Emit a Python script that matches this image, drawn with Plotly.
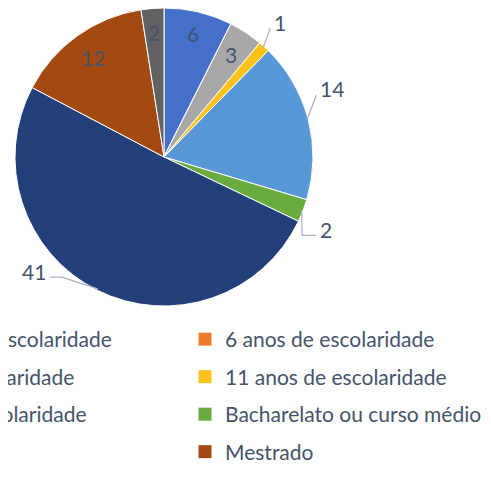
import math
import plotly.graph_objects as go

# ---- data ----
labels = ["Até 4 anos de escolaridade", "6 anos de escolaridade", "9 anos de escolaridade",
          "11 anos de escolaridade", "12 anos de escolaridade", "Bacharelato ou curso médio",
          "Licenciatura", "Mestrado", "Doutoramento"]
values = [6, 0, 3, 1, 14, 2, 41, 12, 2]
colors = ["#4470CB", "#EF7B2C", "#A8A8A8", "#FFC21A", "#5898D6", "#6AAB3F",
          "#23407A", "#A34A12", "#626262"]

# ---- label styling (radius factor, angle shift, leader elbow length) ----
label_radius = [0.85, None, 0.82, 1.195, 1.216, 1.19, 1.16, 0.82, 0.84]
label_shift = [0, 0, 0, -1.5, -7.6, 3, 22, 0, 0]
leader_seg = [0, 0, 0, 0, 0, 14, 12, 0, 0]
outside = [False, False, False, True, True, True, True, False, False]

OFF = 8                      # default page body margin
W, H = 491 - OFF, 500 - OFF  # figure size
cx, cy, R = 164 - OFF, 157 - OFF, 149
FONT = "Lato"
TXT = "#44546A"
FS = 21

fig = go.Figure()
fig.add_trace(go.Pie(
    labels=labels, values=values, sort=False, direction="clockwise", rotation=0,
    marker=dict(colors=colors, line=dict(color="white", width=1)),
    textinfo="none", hoverinfo="label+value", showlegend=False,
    domain=dict(x=[(cx - R) / W, (cx + R) / W], y=[1 - (cy + R) / H, 1 - (cy - R) / H]),
))

total = sum(values)
cum = 0
px2x = lambda x: x / W
px2y = lambda y: 1 - y / H
for i, v in enumerate(values):
    if v == 0:
        cum += v
        continue
    mid = (cum + v / 2) / total * 360
    cum += v
    a = math.radians(mid + label_shift[i])
    k = label_radius[i]
    lx = cx + R * k * math.sin(a)
    ly = cy - R * k * math.cos(a)
    fig.add_annotation(x=px2x(lx), y=px2y(ly), xref="paper", yref="paper", text=str(v),
                       showarrow=False, font=dict(family=FONT, size=FS, color=TXT),
                       xanchor="center", yanchor="middle")
    if outside[i]:
        am = math.radians(mid)
        p0 = (cx + R * 0.99 * math.sin(am), cy - R * 0.99 * math.cos(am))
        side = 1 if lx > cx else -1
        hw = len(str(v)) * 0.55 * FS / 2
        e = (lx - side * (hw + 4), ly + 6)
        c = (e[0] - side * leader_seg[i], e[1])
        path = "M {} {} L {} {} L {} {}".format(px2x(p0[0]), px2y(p0[1]), px2x(c[0]), px2y(c[1]),
                                               px2x(e[0]), px2y(e[1]))
        fig.add_shape(type="path", path=path, xref="paper", yref="paper",
                      line=dict(color="#A9B6C8", width=1.3))

# legend entries (two columns, row-major)
for i, (lab, col) in enumerate(zip(labels, colors)):
    fig.add_trace(go.Scatter(
        x=[None], y=[None], mode="markers", name=lab,
        marker=dict(symbol="square", size=13, color=col),
        legend="legend" if i % 2 == 0 else "legend2", legendgroup=lab, hoverinfo="skip"))

leg_top = 319 - OFF
leg_common = dict(orientation="v", traceorder="grouped", tracegroupgap=7.2,
                  font=dict(family=FONT, size=FS, color=TXT), bgcolor="rgba(0,0,0,0)",
                  xanchor="left", yanchor="top", xref="paper", yref="paper")
fig.update_layout(
    width=W, height=H, margin=dict(l=0, r=0, t=0, b=0, autoexpand=False),
    paper_bgcolor="white", plot_bgcolor="white",
    xaxis=dict(visible=False), yaxis=dict(visible=False),
    legend=dict(x=(-135 - OFF - 40) / W, y=1 - leg_top / H, **leg_common),
    legend2=dict(x=(225 - OFF - 40) / W, y=1 - leg_top / H, **leg_common),
)
fig.write_html("out.html")
